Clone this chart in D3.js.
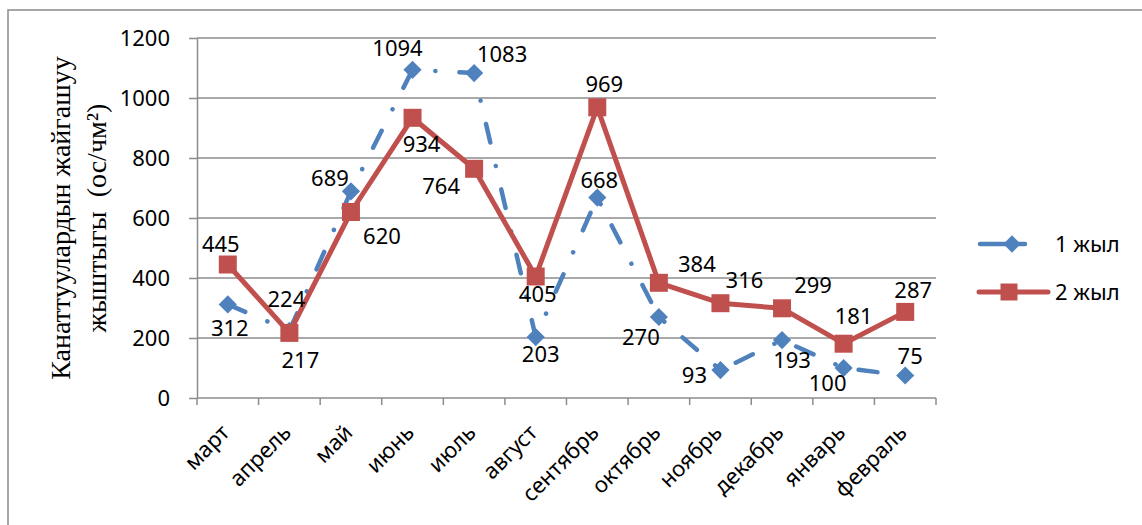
<!DOCTYPE html>
<html>
<head>
<meta charset="utf-8">
<script src="https://cdn.jsdelivr.net/npm/d3@7/dist/d3.min.js"></script>
<style>
  body { margin: 0; background: #fff; }
  text { font-family: 'Noto Sans', sans-serif; fill: #000; }
</style>
</head>
<body>
<div class="chart"></div>
<script>
// data
const months = ['март', 'апрель', 'май', 'июнь', 'июль', 'август', 'сентябрь', 'октябрь', 'ноябрь', 'декабрь', 'январь', 'февраль'];
const year1 = [312, 224, 689, 1094, 1083, 203, 668, 270, 93, 193, 100, 75];
const year2 = [445, 217, 620, 934, 764, 405, 969, 384, 316, 299, 181, 287];
const yTicks = [0, 200, 400, 600, 800, 1000, 1200];
const seriesNames = ['1 жыл', '2 жыл'];
const yTitle = ['Канаттуулардын жайгашуу', 'жыштыгы  (ос/чм²)'];

// label placement (dx, baseline dy from point)
const labelPos1 = [[2,32],[-3,-24],[-21,-5],[-15,-14],[28,-11],[5,25],[2,-10],[-18,28],[-26,13],[10,28],[-16,23],[5,-12]];
const labelPos2 = [[-7,-13],[11,35],[31,32],[9,34],[-33,25],[2,25],[7,-15],[38,-11],[24,-15],[31,-15],[10,-20],[8,-14]];

const W = 1142, H = 525;
const plotL = 197, plotR = 936, plotT = 38, plotB = 398;
const blue = '#4F81BD', red = '#C0504D', grid = '#8c8c8c';

let svg = d3.select('.chart').append('svg')
    .attr('width', W)
    .attr('height', H);

// outer frame (only left and top edges are in view)
svg.append('path')
    .attr('d', `M8,${H} L8,10 L${W},10`)
    .attr('fill', 'none')
    .attr('stroke', '#8a8a8a')
    .attr('stroke-width', 1.5);

let x = d3.scaleBand()
    .domain(months)
    .range([plotL, plotR])
    .padding(0);

let y = d3.scaleLinear()
    .domain([0, 1200])
    .range([plotB, plotT]);

// gridlines
svg.append('g')
    .selectAll('line')
    .data(yTicks.filter(d => d > 0))
    .enter()
    .append('line')
    .attr('x1', plotL)
    .attr('x2', plotR)
    .attr('y1', d => y(d))
    .attr('y2', d => y(d))
    .attr('stroke', grid)
    .attr('stroke-width', 1.5);

// Y axis
let yAxis = svg.append('g')
    .attr('transform', `translate(${plotL},0)`)
    .call(d3.axisLeft(y).tickValues(yTicks).tickFormat(d3.format('d')).tickSize(8).tickSizeOuter(0).tickPadding(19));
yAxis.select('.domain').attr('stroke', grid).attr('stroke-width', 1.5);
yAxis.selectAll('.tick line').attr('stroke', grid).attr('stroke-width', 1.5);
yAxis.selectAll('.tick text')
    .style('font-family', 'Noto Sans')
    .style('font-size', '22px')
    .attr('fill', '#000');

// X axis line and ticks at band edges
svg.append('line')
    .attr('x1', plotL).attr('x2', plotR)
    .attr('y1', plotB).attr('y2', plotB)
    .attr('stroke', grid).attr('stroke-width', 1.5);
let edges = months.map(m => x(m)).concat([x(months[months.length - 1]) + x.bandwidth()]);
svg.append('g')
    .selectAll('line')
    .data(edges)
    .enter()
    .append('line')
    .attr('x1', d => d).attr('x2', d => d)
    .attr('y1', plotB).attr('y2', plotB + 7)
    .attr('stroke', grid).attr('stroke-width', 1.5);

// month labels
svg.append('g')
    .selectAll('text')
    .data(months)
    .enter()
    .append('text')
    .attr('text-anchor', 'end')
    .attr('transform', d => `translate(${x(d) + x.bandwidth() / 2 + 3},${plotB + 36}) rotate(-45)`)
    .style('font-size', '22px')
    .text(d => d);

// Y title
yTitle.forEach((t, i) => {
    svg.append('text')
        .attr('transform', `translate(${70 + i * 36},${(plotT + plotB) / 2}) rotate(-90)`)
        .attr('text-anchor', 'middle')
        .style('font-family', 'Liberation Serif')
        .style('font-size', '28px')
        .style('white-space', 'pre')
        .text(t);
});

let cx = i => x(months[i]) + x.bandwidth() / 2;
let line = d3.line()
    .x((d, i) => cx(i))
    .y(d => y(d));

let diamond = d3.symbol().type(d3.symbolSquare).size(165);
let square = d3.symbol().type(d3.symbolSquare).size(324);

// series 1
svg.append('path')
    .datum(year1)
    .attr('d', line)
    .attr('fill', 'none')
    .attr('stroke', blue)
    .attr('stroke-width', 4.5)
    .attr('stroke-linecap', 'round')
    .attr('stroke-linejoin', 'round')
    .attr('stroke-dasharray', '19,24,0.1,24');
svg.append('g')
    .selectAll('path')
    .data(year1)
    .enter()
    .append('path')
    .attr('d', diamond)
    .attr('transform', (d, i) => `translate(${cx(i)},${y(d)}) rotate(45)`)
    .attr('fill', blue);

// series 2
svg.append('path')
    .datum(year2)
    .attr('d', line)
    .attr('fill', 'none')
    .attr('stroke', red)
    .attr('stroke-width', 5)
    .attr('stroke-linejoin', 'round');
svg.append('g')
    .selectAll('path')
    .data(year2)
    .enter()
    .append('path')
    .attr('d', square)
    .attr('transform', (d, i) => `translate(${cx(i)},${y(d)})`)
    .attr('fill', red);

// data labels
[[year1, labelPos1], [year2, labelPos2]].forEach(([vals, pos]) => {
    svg.append('g')
        .selectAll('text')
        .data(vals)
        .enter()
        .append('text')
        .attr('text-anchor', 'middle')
        .attr('x', (d, i) => cx(i) + pos[i][0])
        .attr('y', (d, i) => y(d) + pos[i][1])
        .style('font-size', '22px')
        .text(d => d);
});

// legend
let lg = svg.append('g');
lg.append('line')
    .attr('x1', 980).attr('x2', 1047)
    .attr('y1', 244).attr('y2', 244)
    .attr('stroke', blue).attr('stroke-width', 4.5)
    .attr('stroke-linecap', 'round')
    .attr('stroke-dasharray', '45,22,0.1,100');
lg.append('path')
    .attr('d', d3.symbol().type(d3.symbolSquare).size(150))
    .attr('transform', 'translate(1012,244) rotate(45)')
    .attr('fill', blue);
lg.append('line')
    .attr('x1', 979).attr('x2', 1048)
    .attr('y1', 292).attr('y2', 292)
    .attr('stroke', red).attr('stroke-width', 5)
    .attr('stroke-linecap', 'round');
lg.append('path')
    .attr('d', d3.symbol().type(d3.symbolSquare).size(289))
    .attr('transform', 'translate(1009,292)')
    .attr('fill', red);
lg.selectAll('text.name')
    .data(seriesNames)
    .enter()
    .append('text')
    .attr('class', 'name')
    .attr('x', 1055)
    .attr('y', (d, i) => 252 + i * 48)
    .style('font-size', '22px')
    .text(d => d);
</script>
</body>
</html>
